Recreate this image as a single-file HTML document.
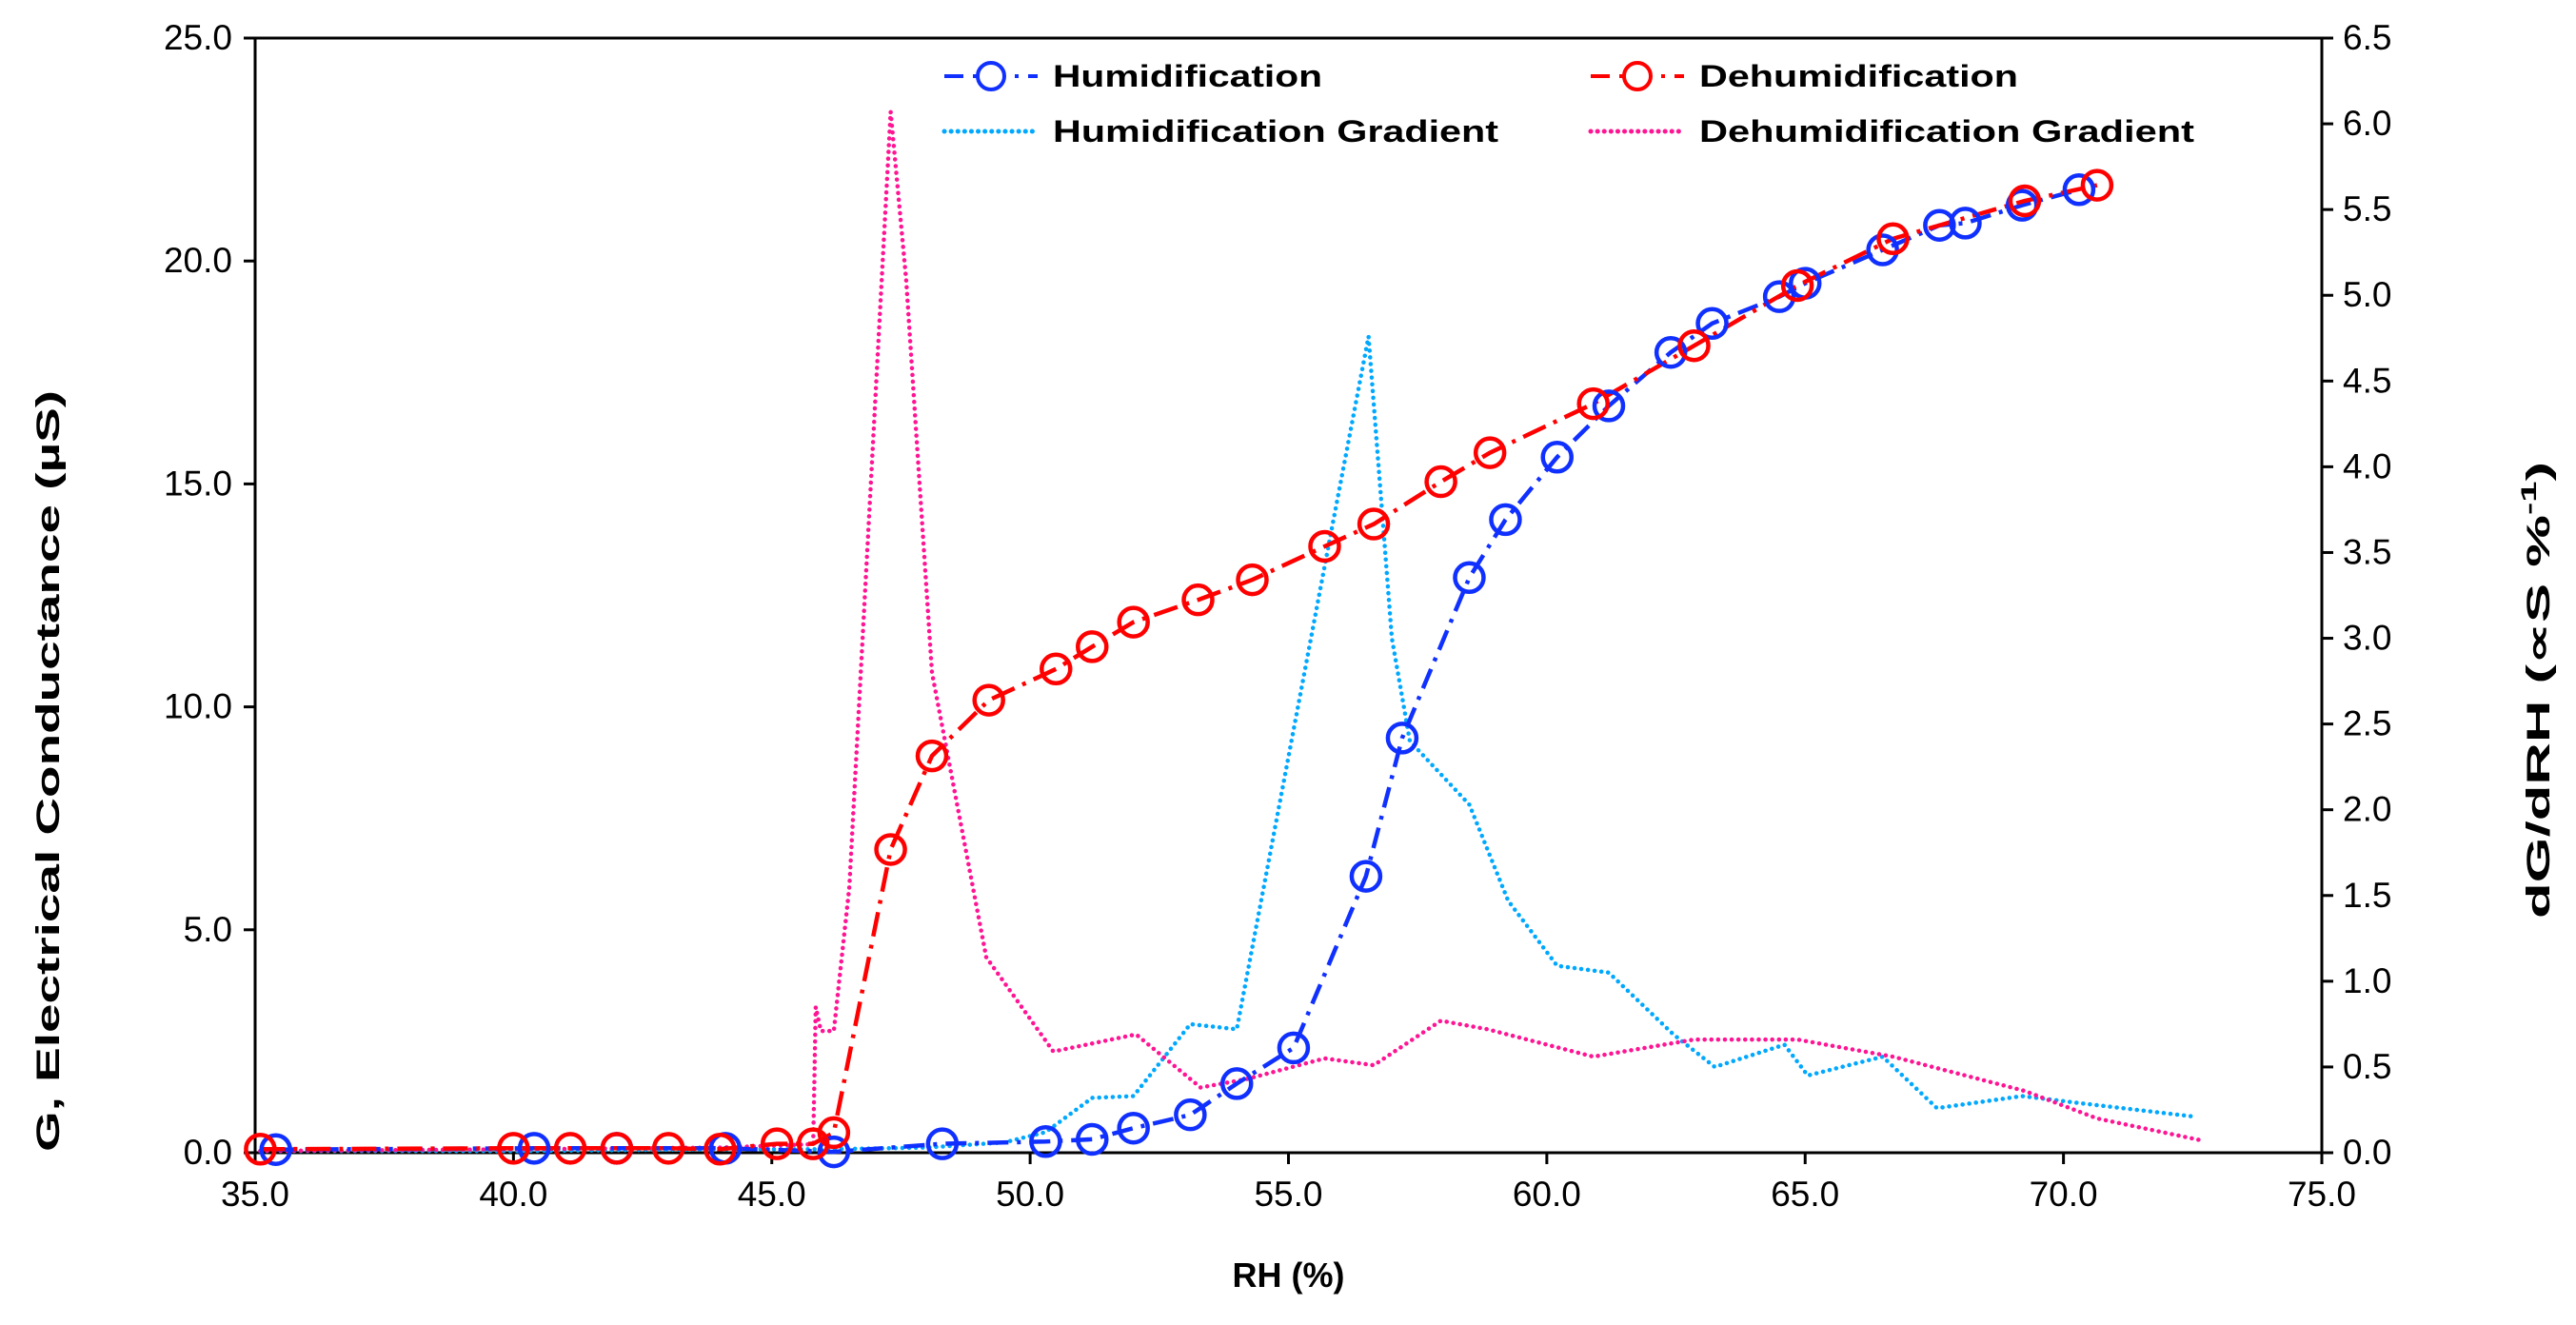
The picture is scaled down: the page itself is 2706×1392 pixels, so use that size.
<!DOCTYPE html>
<html><head><meta charset="utf-8"><style>
html,body{margin:0;padding:0;background:#fff;}
svg{display:block;font-family:"Liberation Sans",sans-serif;}
</style></head><body>
<svg id="chart" width="2706" height="1392" viewBox="0 0 2706 1392" xmlns="http://www.w3.org/2000/svg"></svg>
<script>
const xTicks=[35,40,45,50,55,60,65,70,75];
const yLeftTicks=[0,5,10,15,20,25];
const yRightTicks=[0,0.5,1,1.5,2,2.5,3,3.5,4,4.5,5,5.5,6,6.5];
const humX=[35.4,40.4,42.0,44.1,46.2,48.3,50.3,51.2,52.0,53.1,54.0,55.1,56.5,57.2,58.5,59.2,60.2,61.2,62.4,63.2,64.5,65.0,66.5,67.6,68.1,69.2,70.3];
const humY=[0.07,0.1,0.1,0.1,0.02,0.2,0.25,0.3,0.55,0.85,1.55,2.35,6.2,9.3,12.9,14.2,15.6,16.75,17.95,18.6,19.2,19.5,20.25,20.8,20.85,21.25,21.6];
const dehX=[35.1,40.0,41.1,42.0,43.0,44.0,45.1,45.8,46.2,47.3,48.1,49.2,50.5,51.2,52.0,53.25,54.3,55.7,56.65,57.95,58.9,60.9,62.85,64.85,66.7,69.25,70.65];
const dehY=[0.08,0.1,0.1,0.1,0.1,0.08,0.2,0.2,0.45,6.8,8.9,10.15,10.85,11.35,11.9,12.4,12.85,13.6,14.1,15.05,15.7,16.8,18.1,19.45,20.5,21.35,21.7];
const hgX=[35.1,40.0,44.0,46.0,48.0,49.5,50.3,51.2,52.0,53.1,54.0,55.75,56.55,57.0,57.35,58.5,59.25,60.2,61.2,62.45,63.25,64.6,65.05,66.5,67.55,69.2,70.3,72.55];
const hgY=[0.01,0.01,0.02,0.02,0.03,0.06,0.12,0.32,0.33,0.75,0.72,3.5,4.76,3.0,2.4,2.03,1.47,1.09,1.05,0.69,0.5,0.63,0.45,0.56,0.26,0.33,0.29,0.21];
const dgX=[35.1,40.0,44.0,45.8,45.85,45.95,46.2,46.5,47.3,47.6,48.1,49.15,50.45,52.05,53.3,54.2,55.7,56.65,57.95,58.85,60.9,62.85,64.85,66.7,69.25,70.65,72.7];
const dgY=[0.01,0.02,0.03,0.05,0.85,0.71,0.71,1.55,6.07,5.09,2.8,1.14,0.59,0.69,0.38,0.43,0.55,0.51,0.77,0.72,0.56,0.66,0.66,0.56,0.36,0.2,0.07];

const L=268,R=2439,T=40,B=1211;
const sx=v=>L+(v-35)/(75-35)*(R-L);
const syL=v=>B-v/25*(B-T);
const syR=v=>B-v/6.5*(B-T);
const svg=document.getElementById('chart');
const NS='http://www.w3.org/2000/svg';
function mk(tag,attrs,parent){const e=document.createElementNS(NS,tag);for(const k in attrs)e.setAttribute(k,attrs[k]);(parent||svg).appendChild(e);return e;}

const axes=mk('g',{});


mk('line',{x1:L,y1:T,x2:L,y2:B,stroke:'#000','stroke-width':3},axes);
mk('line',{x1:R,y1:T,x2:R,y2:B,stroke:'#000','stroke-width':3},axes);
mk('line',{x1:L,y1:B,x2:R,y2:B,stroke:'#000','stroke-width':3},axes);
mk('line',{x1:L,y1:T,x2:R,y2:T,stroke:'#000','stroke-width':3},axes);
xTicks.forEach(v=>{
  mk('line',{x1:sx(v),y1:B,x2:sx(v),y2:B+12,stroke:'#000','stroke-width':3},axes);
  const t=mk('text',{x:sx(v),y:B+56,'text-anchor':'middle','font-size':37},axes);
  
  
  t.textContent=v.toFixed(1);
});
yLeftTicks.forEach(v=>{
  mk('line',{x1:L-12,y1:syL(v),x2:L,y2:syL(v),stroke:'#000','stroke-width':3},axes);
  const t=mk('text',{x:L-24,y:syL(v)+12,'text-anchor':'end','font-size':37},axes);
  
  
  t.textContent=v.toFixed(1);
});
yRightTicks.forEach(v=>{
  mk('line',{x1:R,y1:syR(v),x2:R+12,y2:syR(v),stroke:'#000','stroke-width':3},axes);
  const t=mk('text',{x:R+22,y:syR(v)+12,'text-anchor':'start','font-size':37},axes);
  
  
  t.textContent=v.toFixed(1);
});
const xt=mk('text',{x:(L+R)/2,y:1352,'text-anchor':'middle','font-size':36,'font-weight':'bold'});


xt.textContent='RH (%)';
const yl=mk('text',{x:0,y:0,transform:'translate(62,810) rotate(-90)','text-anchor':'middle','font-size':34,'font-weight':'bold',textLength:800,lengthAdjust:'spacingAndGlyphs'});


yl.textContent='G, Electrical Conductance (µS)';
const yr=mk('text',{x:0,y:0,transform:'translate(2678,725) rotate(-90)','text-anchor':'middle','font-size':34,'font-weight':'bold'});


yr.innerHTML='dG/dRH (∝S %<tspan dy="-14" font-size="22">-1</tspan><tspan dy="14">)</tspan>';
yr.setAttribute('textLength','480');
yr.setAttribute('lengthAdjust','spacingAndGlyphs');

function line(xs,ys,sy,color,dash,w,name){
  const d=xs.map((x,i)=>(i?'L':'M')+sx(x).toFixed(1)+','+sy(ys[i]).toFixed(1)).join(' ');
  const p=mk('path',{d:d,fill:'none',stroke:color,'stroke-width':w,'stroke-dasharray':dash,'stroke-linecap':dash.indexOf('0.1')>=0?'round':'butt'});
  
  
}
function markers(xs,ys,sy,color,name){
  xs.forEach((x,i)=>{
    const c=mk('ellipse',{cx:sx(x),cy:sy(ys[i]),rx:15,ry:15,fill:'none',stroke:color,'stroke-width':4.5});
    
    
  });
}
line(hgX,hgY,syR,'#00a8ff','0.1 7',4.5,'humidification-gradient-line');
line(dgX,dgY,syR,'#ff1493','0.1 7',4.5,'dehumidification-gradient-line');
line(humX,humY,syL,'#1030ff','22 9 4 9',4.5,'humidification-line');
line(dehX,dehY,syL,'#ff0000','26 9 4 9',4.5,'dehumidification-line');
markers(humX,humY,syL,'#1030ff','humidification-point');
markers(dehX,dehY,syL,'#ff0000','dehumidification-point');

function legend(x,y,color,kind,label,tl,name){
  const g=mk('g',{});
  
  
  if(kind==='marker'){
    mk('line',{x1:x,y1:y,x2:x+98,y2:y,stroke:color,'stroke-width':4,'stroke-dasharray':'20 10 4 10'},g);
    mk('circle',{cx:x+49,cy:y,r:14,fill:'#fff',stroke:color,'stroke-width':4},g);
  } else {
    mk('line',{x1:x,y1:y,x2:x+98,y2:y,stroke:color,'stroke-width':5,'stroke-dasharray':'0.1 7','stroke-linecap':'round'},g);
  }
  const t=mk('text',{x:x+114,y:y+11,'font-size':32,'font-weight':'bold',textLength:tl,lengthAdjust:'spacingAndGlyphs'},g);
  t.textContent=label;
}
legend(992,80,'#1030ff','marker','Humidification',283,'legend-humidification');
legend(1671,80,'#ff0000','marker','Dehumidification',335,'legend-dehumidification');
legend(992,138,'#00a8ff','dot','Humidification Gradient',468,'legend-humidification-gradient');
legend(1671,138,'#ff1493','dot','Dehumidification Gradient',520,'legend-dehumidification-gradient');
</script>
</body></html>
